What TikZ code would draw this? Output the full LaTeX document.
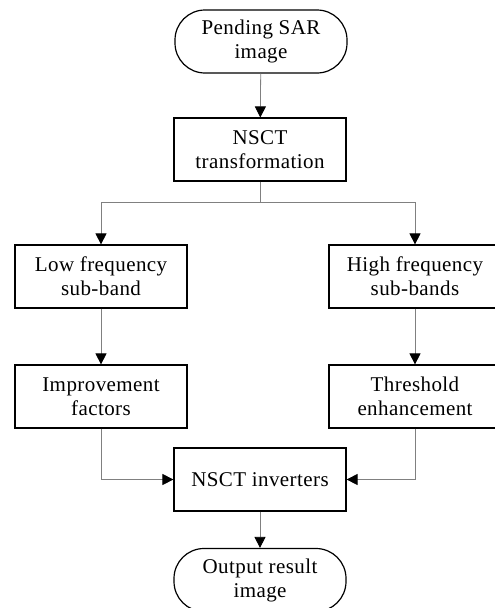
\documentclass[tikz,border=0pt]{standalone}
\usepackage{fontspec}
\setmainfont{Liberation Serif}[LetterSpace=2]
\usetikzlibrary{arrows.meta}
\tikzset{
  box/.style={draw=black, line width=1.2pt, minimum width=172pt, minimum height=63pt, inner sep=0pt, align=center, font=\fontsize{21}{24}\selectfont},
  term/.style={box, rounded corners=30pt},
  conn/.style={draw=gray, line width=0.8pt, -{Triangle[width=11pt,length=11pt,black]}},
  plain/.style={draw=gray, line width=0.8pt}
}
\begin{document}
\begin{tikzpicture}[x=1pt,y=-1pt]
\clip (0,0) rectangle (495,608);
\fill[white] (0,0) rectangle (495,608);
\node[term] (start) at (261,41.5) {Pending SAR\\image};
\node[box] (nsct) at (260,149.5) {NSCT\\transformation};
\node[box] (low) at (101,276.5) {Low frequency\\sub-band};
\node[box] (high) at (415,276.5) {High frequency\\sub-bands};
\node[box] (imp) at (101,396.5) {Improvement\\factors};
\node[box] (thr) at (415,396.5) {Threshold\\enhancement};
\node[box] (inv) at (260,479.5) {NSCT inverters};
\node[term] (out) at (260,580) {Output result\\image};
\coordinate (br) at (260,202);
\draw[conn] (start) -- (nsct);
\draw[plain] (nsct) -- (br);
\draw[conn] (br) -| (low);
\draw[conn] (br) -| (high);
\draw[conn] (low) -- (imp);
\draw[conn] (high) -- (thr);
\draw[conn] (imp) |- (inv);
\draw[conn] (thr) |- (inv);
\draw[conn] (inv) -- (out);
\end{tikzpicture}
\end{document}
